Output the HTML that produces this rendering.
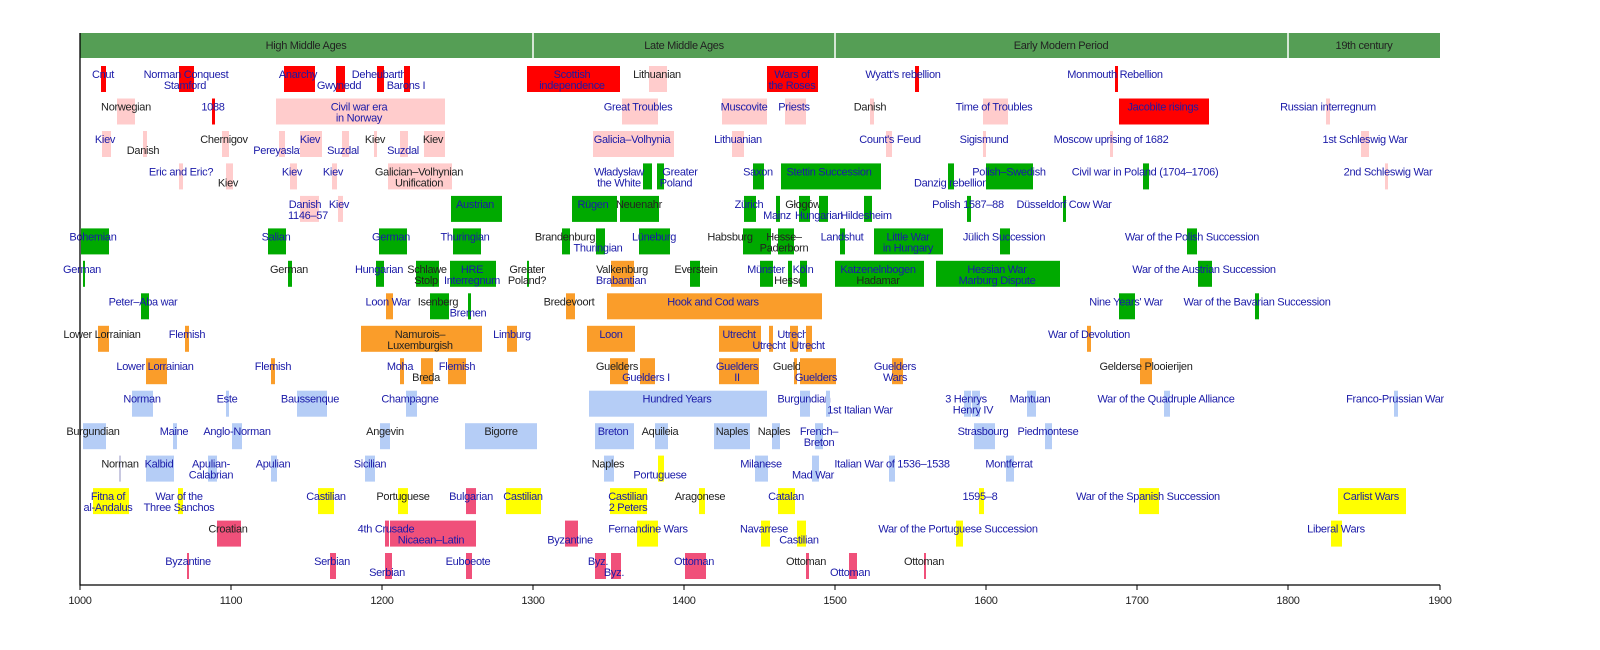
<!DOCTYPE html>
<html><head><meta charset="utf-8"><style>
html,body{margin:0;padding:0;background:#fff;}
svg{display:block;}
text{font-family:"Liberation Sans",sans-serif;font-size:11px;text-anchor:middle;letter-spacing:-0.3px;}
.b{fill:#1a1aa8;}
.k{fill:#222;}
.r{fill:#ff0000;}.p{fill:#ffcccc;}.g{fill:#00aa00;}.o{fill:#fa9d2a;}.l{fill:#b5cdf6;}.y{fill:#ffff00;}.c{fill:#f0507a;}
</style></head><body>
<svg width="1600" height="650" viewBox="0 0 1600 650" xmlns="http://www.w3.org/2000/svg">
<rect x="80" y="33" width="1360" height="25" fill="#559e55"/>
<line x1="533" y1="33" x2="533" y2="58" stroke="#fff" stroke-width="1.5"/>
<line x1="835" y1="33" x2="835" y2="58" stroke="#fff" stroke-width="1.5"/>
<line x1="1288" y1="33" x2="1288" y2="58" stroke="#fff" stroke-width="1.5"/>
<text class="k" x="306" y="49">High Middle Ages</text>
<text class="k" x="684" y="49">Late Middle Ages</text>
<text class="k" x="1061" y="49">Early Modern Period</text>
<text class="k" x="1364" y="49">19th century</text>

<g transform="translate(0,66)">
<rect class="r" x="101" width="5" height="26"/><text class="b" x="103" y="12">Cnut</text>
<rect class="r" x="179" width="15" height="26"/><text class="b" x="186" y="12">Norman Conquest</text><text class="b" x="185" y="23">Stamford</text>
<rect class="r" x="284" width="31" height="26"/><text class="b" x="298" y="12">Anarchy</text>
<rect class="r" x="336" width="9" height="26"/><text class="b" x="339" y="23">Gwynedd</text>
<rect class="r" x="377" width="7" height="26"/><text class="b" x="379" y="12">Deheubarth</text>
<rect class="r" x="404" width="6" height="26"/><text class="b" x="406" y="23">Barons I</text>
<rect class="r" x="527" width="93" height="26"/><text class="b" x="572" y="12">Scottish</text><text class="b" x="572" y="23">independence</text>
<rect class="p" x="649" width="18" height="26"/><text class="k" x="657" y="12">Lithuanian</text>
<rect class="r" x="767" width="51" height="26"/><text class="b" x="792" y="12">Wars of</text><text class="b" x="792" y="23">the Roses</text>
<rect class="r" x="915" width="4" height="26"/><text class="b" x="903" y="12">Wyatt's rebellion</text>
<rect class="r" x="1115" width="3" height="26"/><text class="b" x="1115" y="12">Monmouth Rebellion</text>
</g>

<g transform="translate(0,98.5)">
<rect class="p" x="117" width="18" height="26"/><text class="k" x="126" y="12">Norwegian</text>
<rect class="r" x="212" width="3" height="26"/><text class="b" x="213" y="12">1088</text>
<rect class="p" x="276" width="169" height="26"/><text class="b" x="359" y="12">Civil war era</text><text class="b" x="359" y="23">in Norway</text>
<rect class="p" x="622" width="36" height="26"/><text class="b" x="638" y="12">Great Troubles</text>
<rect class="p" x="722" width="45" height="26"/><text class="b" x="744" y="12">Muscovite</text>
<rect class="p" x="785" width="21" height="26"/><text class="b" x="794" y="12">Priests</text>
<rect class="p" x="870" width="4" height="26"/><text class="k" x="870" y="12">Danish</text>
<rect class="p" x="983" width="25" height="26"/><text class="b" x="994" y="12">Time of Troubles</text>
<rect class="r" x="1119" width="90" height="26"/><text class="b" x="1163" y="12">Jacobite risings</text>
<rect class="p" x="1326" width="4" height="26"/><text class="b" x="1328" y="12">Russian interregnum</text>
</g>

<g transform="translate(0,131)">
<rect class="p" x="102" width="9" height="26"/><text class="b" x="105" y="12">Kiev</text>
<rect class="p" x="143" width="4" height="26"/><text class="k" x="143" y="23">Danish</text>
<rect class="p" x="222" width="7" height="26"/><text class="k" x="224" y="12">Chernigov</text>
<rect class="p" x="279" width="6" height="26"/><text class="b" x="280" y="23">Pereyaslavl</text>
<rect class="p" x="300" width="22" height="26"/><text class="b" x="310" y="12">Kiev</text>
<rect class="p" x="342" width="7" height="26"/><text class="b" x="343" y="23">Suzdal</text>
<rect class="p" x="374" width="3" height="26"/><text class="k" x="375" y="12">Kiev</text>
<rect class="p" x="400" width="8" height="26"/><text class="b" x="403" y="23">Suzdal</text>
<rect class="p" x="424" width="21" height="26"/><text class="k" x="433" y="12">Kiev</text>
<rect class="p" x="593" width="81" height="26"/><text class="b" x="632" y="12">Galicia–Volhynia</text>
<rect class="p" x="732" width="12" height="26"/><text class="b" x="738" y="12">Lithuanian</text>
<rect class="p" x="886" width="6" height="26"/><text class="b" x="890" y="12">Count's Feud</text>
<rect class="p" x="983" width="3" height="26"/><text class="b" x="984" y="12">Sigismund</text>
<rect class="p" x="1110" width="3" height="26"/><text class="b" x="1111" y="12">Moscow uprising of 1682</text>
<rect class="p" x="1361" width="8" height="26"/><text class="b" x="1365" y="12">1st Schleswig War</text>
</g>

<g transform="translate(0,163.4)">
<rect class="p" x="179" width="4" height="26"/><text class="b" x="181" y="12">Eric and Eric?</text>
<rect class="p" x="226" width="7" height="26"/><text class="k" x="228" y="23">Kiev</text>
<rect class="p" x="290" width="7" height="26"/><text class="b" x="292" y="12">Kiev</text>
<rect class="p" x="332" width="5" height="26"/><text class="b" x="333" y="12">Kiev</text>
<rect class="p" x="388" width="64" height="26"/><text class="k" x="419" y="12">Galician–Volhynian</text><text class="k" x="419" y="23">Unification</text>
<rect class="g" x="643" width="9" height="26"/><text class="b" x="619" y="12">Władysław</text><text class="b" x="619" y="23">the White</text>
<rect class="g" x="657" width="7" height="26"/><text class="b" x="680" y="12">Greater</text><text class="b" x="676" y="23">Poland</text>
<rect class="g" x="753" width="11" height="26"/><text class="b" x="758" y="12">Saxon</text>
<rect class="g" x="781" width="100" height="26"/><text class="b" x="829" y="12">Stettin Succession</text>
<rect class="g" x="948" width="6" height="26"/><text class="b" x="951" y="23">Danzig rebellion</text>
<rect class="g" x="986" width="47" height="26"/><text class="b" x="1009" y="12">Polish–Swedish</text>
<rect class="g" x="1143" width="6" height="26"/><text class="b" x="1145" y="12">Civil war in Poland (1704–1706)</text>
<rect class="p" x="1385" width="3" height="26"/><text class="b" x="1388" y="12">2nd Schleswig War</text>
</g>

<g transform="translate(0,195.9)">
<rect class="p" x="300" width="19" height="26"/><text class="b" x="305" y="12">Danish</text><text class="b" x="308" y="23">1146–57</text>
<rect class="p" x="338" width="5" height="26"/><text class="b" x="339" y="12">Kiev</text>
<rect class="g" x="451" width="51" height="26"/><text class="b" x="475" y="12">Austrian</text>
<rect class="g" x="572" width="45" height="26"/><text class="b" x="593" y="12">Rügen</text>
<rect class="g" x="620" width="39" height="26"/><text class="k" x="639" y="12">Neuenahr</text>
<rect class="g" x="744" width="12" height="26"/><text class="b" x="749" y="12">Zürich</text>
<rect class="g" x="776" width="4" height="26"/><text class="b" x="777" y="23">Mainz</text>
<rect class="g" x="799" width="11" height="26"/><text class="k" x="803" y="12">Głogów</text>
<rect class="g" x="819" width="9" height="26"/><text class="b" x="819" y="23">Hungarian</text>
<rect class="g" x="864" width="8" height="26"/><text class="b" x="866" y="23">Hildesheim</text>
<rect class="g" x="967" width="4" height="26"/><text class="b" x="968" y="12">Polish 1587–88</text>
<rect class="g" x="1063" width="3" height="26"/><text class="b" x="1064" y="12">Düsseldorf Cow War</text>
</g>

<g transform="translate(0,228.4)">
<rect class="g" x="81" width="28" height="26"/><text class="b" x="93" y="12">Bohemian</text>
<rect class="g" x="268" width="18" height="26"/><text class="b" x="276" y="12">Salian</text>
<rect class="g" x="379" width="28" height="26"/><text class="b" x="391" y="12">German</text>
<rect class="g" x="453" width="28" height="26"/><text class="b" x="465" y="12">Thuringian</text>
<rect class="g" x="562" width="8" height="26"/><text class="k" x="565" y="12">Brandenburg</text>
<rect class="g" x="596" width="9" height="26"/><text class="b" x="598" y="23">Thuringian</text>
<rect class="g" x="639" width="31" height="26"/><text class="b" x="654" y="12">Lüneburg</text>
<rect class="g" x="743" width="28" height="26"/><text class="k" x="730" y="12">Habsburg</text>
<rect class="g" x="778" width="16" height="26"/><text class="k" x="784" y="12">Hesse–</text><text class="k" x="784" y="23">Paderborn</text>
<rect class="g" x="840" width="5" height="26"/><text class="b" x="842" y="12">Landshut</text>
<rect class="g" x="874" width="69" height="26"/><text class="b" x="908" y="12">Little War</text><text class="b" x="908" y="23">in Hungary</text>
<rect class="g" x="1000" width="10" height="26"/><text class="b" x="1004" y="12">Jülich Succession</text>
<rect class="g" x="1187" width="10" height="26"/><text class="b" x="1192" y="12">War of the Polish Succession</text>
</g>

<g transform="translate(0,260.8)">
<rect class="g" x="83" width="2" height="26"/><text class="b" x="82" y="12">German</text>
<rect class="g" x="288" width="4" height="26"/><text class="k" x="289" y="12">German</text>
<rect class="g" x="376" width="8" height="26"/><text class="b" x="379" y="12">Hungarian</text>
<rect class="g" x="416" width="23" height="26"/><text class="k" x="427" y="12">Schlawe</text><text class="k" x="426" y="23">Stolp</text>
<rect class="g" x="450" width="46" height="26"/><text class="b" x="472" y="12">HRE</text><text class="b" x="472" y="23">Interregnum</text>
<rect class="g" x="527" width="2" height="26"/><text class="k" x="527" y="12">Greater</text><text class="k" x="527" y="23">Poland?</text>
<rect class="o" x="611" width="23" height="26"/><text class="k" x="622" y="12">Valkenburg</text><text class="b" x="621" y="23">Brabantian</text>
<rect class="g" x="690" width="10" height="26"/><text class="k" x="696" y="12">Everstein</text>
<rect class="g" x="760" width="13" height="26"/><text class="b" x="766" y="12">Münster</text>
<rect class="g" x="788" width="4" height="26"/><text class="k" x="789" y="23">Hesse</text>
<rect class="g" x="800" width="7" height="26"/><text class="b" x="803" y="12">Köln</text>
<rect class="g" x="835" width="89" height="26"/><text class="b" x="878" y="12">Katzenelnbogen</text><text class="k" x="878" y="23">Hadamar</text>
<rect class="g" x="936" width="124" height="26"/><text class="b" x="997" y="12">Hessian War</text><text class="b" x="997" y="23">Marburg Dispute</text>
<rect class="g" x="1198" width="14" height="26"/><text class="b" x="1204" y="12">War of the Austrian Succession</text>
</g>

<g transform="translate(0,293.3)">
<rect class="g" x="141" width="8" height="26"/><text class="b" x="143" y="12">Peter–Aba war</text>
<rect class="o" x="386" width="7" height="26"/><text class="b" x="388" y="12">Loon War</text>
<rect class="g" x="430" width="19" height="26"/><text class="k" x="438" y="12">Isenberg</text>
<rect class="g" x="468" width="3" height="26"/><text class="b" x="468" y="23">Bremen</text>
<rect class="o" x="566" width="9" height="26"/><text class="k" x="569" y="12">Bredevoort</text>
<rect class="o" x="607" width="215" height="26"/><text class="b" x="713" y="12">Hook and Cod wars</text>
<rect class="g" x="1119" width="16" height="26"/><text class="b" x="1126" y="12">Nine Years' War</text>
<rect class="g" x="1255" width="4" height="26"/><text class="b" x="1257" y="12">War of the Bavarian Succession</text>
</g>

<g transform="translate(0,325.8)">
<rect class="o" x="98" width="11" height="26"/><text class="k" x="102" y="12">Lower Lorrainian</text>
<rect class="o" x="185" width="4" height="26"/><text class="b" x="187" y="12">Flemish</text>
<rect class="o" x="361" width="121" height="26"/><text class="k" x="420" y="12">Namurois–</text><text class="k" x="420" y="23">Luxemburgish</text>
<rect class="o" x="507" width="10" height="26"/><text class="b" x="512" y="12">Limburg</text>
<rect class="o" x="587" width="48" height="26"/><text class="b" x="611" y="12">Loon</text>
<rect class="o" x="719" width="42" height="26"/><text class="b" x="739" y="12">Utrecht</text>
<rect class="o" x="769" width="4" height="26"/><text class="b" x="769" y="23">Utrecht</text>
<rect class="o" x="790" width="8" height="26"/><text class="b" x="794" y="12">Utrecht</text>
<rect class="o" x="806" width="6" height="26"/><text class="b" x="808" y="23">Utrecht</text>
<rect class="o" x="1087" width="4" height="26"/><text class="b" x="1089" y="12">War of Devolution</text>
</g>

<g transform="translate(0,358.2)">
<rect class="o" x="146" width="21" height="26"/><text class="b" x="155" y="12">Lower Lorrainian</text>
<rect class="o" x="271" width="4" height="26"/><text class="b" x="273" y="12">Flemish</text>
<rect class="o" x="400" width="4" height="26"/><text class="b" x="400" y="12">Moha</text>
<rect class="o" x="421" width="12" height="26"/><text class="k" x="426" y="23">Breda</text>
<rect class="o" x="448" width="18" height="26"/><text class="b" x="457" y="12">Flemish</text>
<rect class="o" x="610" width="18" height="26"/><text class="k" x="617" y="12">Guelders</text>
<rect class="o" x="640" width="15" height="26"/><text class="b" x="646" y="23">Guelders I</text>
<rect class="o" x="719" width="40" height="26"/><text class="b" x="737" y="12">Guelders</text><text class="b" x="737" y="23">II</text>
<rect class="o" x="794" width="3" height="26"/><text class="k" x="794" y="12">Guelders</text>
<rect class="o" x="800" width="36" height="26"/><text class="b" x="816" y="23">Guelders</text>
<rect class="o" x="892" width="11" height="26"/><text class="b" x="895" y="12">Guelders</text><text class="b" x="895" y="23">Wars</text>
<rect class="o" x="1140" width="12" height="26"/><text class="k" x="1146" y="12">Gelderse Plooierijen</text>
</g>

<g transform="translate(0,390.7)">
<rect class="l" x="132" width="21" height="26"/><text class="b" x="142" y="12">Norman</text>
<rect class="l" x="226" width="3" height="26"/><text class="b" x="227" y="12">Este</text>
<rect class="l" x="297" width="30" height="26"/><text class="b" x="310" y="12">Baussenque</text>
<rect class="l" x="406" width="11" height="26"/><text class="b" x="410" y="12">Champagne</text>
<rect class="l" x="589" width="178" height="26"/><text class="b" x="677" y="12">Hundred Years</text>
<rect class="l" x="800" width="10" height="26"/><text class="b" x="804" y="12">Burgundian</text>
<rect class="l" x="826" width="4" height="26"/><text class="b" x="860" y="23">1st Italian War</text>
<rect class="l" x="964" width="7" height="26"/><rect class="l" x="972" width="8" height="26"/><text class="b" x="966" y="12">3 Henrys</text><text class="b" x="973" y="23">Henry IV</text>
<rect class="l" x="1027" width="9" height="26"/><text class="b" x="1030" y="12">Mantuan</text>
<rect class="l" x="1164" width="6" height="26"/><text class="b" x="1166" y="12">War of the Quadruple Alliance</text>
<rect class="l" x="1394" width="4" height="26"/><text class="b" x="1395" y="12">Franco-Prussian War</text>
</g>

<g transform="translate(0,423.2)">
<rect class="l" x="83" width="23" height="26"/><text class="k" x="93" y="12">Burgundian</text>
<rect class="l" x="173" width="4" height="26"/><text class="b" x="174" y="12">Maine</text>
<rect class="l" x="232" width="10" height="26"/><text class="b" x="237" y="12">Anglo-Norman</text>
<rect class="l" x="380" width="10" height="26"/><text class="k" x="385" y="12">Angevin</text>
<rect class="l" x="465" width="72" height="26"/><text class="k" x="501" y="12">Bigorre</text>
<rect class="l" x="595" width="39" height="26"/><text class="b" x="613" y="12">Breton</text>
<rect class="l" x="655" width="13" height="26"/><text class="k" x="660" y="12">Aquileia</text>
<rect class="l" x="714" width="36" height="26"/><text class="k" x="732" y="12">Naples</text>
<rect class="l" x="772" width="8" height="26"/><text class="k" x="774" y="12">Naples</text>
<rect class="l" x="815" width="8" height="26"/><text class="b" x="819" y="12">French–</text><text class="b" x="819" y="23">Breton</text>
<rect class="l" x="974" width="21" height="26"/><text class="b" x="983" y="12">Strasbourg</text>
<rect class="l" x="1045" width="7" height="26"/><text class="b" x="1048" y="12">Piedmontese</text>
</g>

<g transform="translate(0,455.6)">
<rect fill="#c8c8e0" x="119" width="2" height="26"/><text class="k" x="120" y="12">Norman</text>
<rect class="l" x="146" width="28" height="26"/><text class="b" x="159" y="12">Kalbid</text>
<rect class="l" x="208" width="9" height="26"/><text class="b" x="211" y="12">Apulian-</text><text class="b" x="211" y="23">Calabrian</text>
<rect class="l" x="271" width="6" height="26"/><text class="b" x="273" y="12">Apulian</text>
<rect class="l" x="365" width="10" height="26"/><text class="b" x="370" y="12">Sicilian</text>
<rect class="l" x="604" width="10" height="26"/><text class="k" x="608" y="12">Naples</text>
<rect class="y" x="658" width="6" height="26"/><text class="b" x="660" y="23">Portuguese</text>
<rect class="l" x="755" width="13" height="26"/><text class="b" x="761" y="12">Milanese</text>
<rect class="l" x="812" width="7" height="26"/><text class="b" x="813" y="23">Mad War</text>
<rect class="l" x="889" width="6" height="26"/><text class="b" x="892" y="12">Italian War of 1536–1538</text>
<rect class="l" x="1006" width="8" height="26"/><text class="b" x="1009" y="12">Montferrat</text>
</g>

<g transform="translate(0,488.1)">
<rect class="y" x="93" width="36" height="26"/><text class="b" x="108" y="12">Fitna of</text><text class="b" x="108" y="23">al-Andalus</text>
<rect class="y" x="178" width="5" height="26"/><text class="b" x="179" y="12">War of the</text><text class="b" x="179" y="23">Three Sanchos</text>
<rect class="y" x="318" width="16" height="26"/><text class="b" x="326" y="12">Castilian</text>
<rect class="y" x="398" width="10" height="26"/><text class="k" x="403" y="12">Portuguese</text>
<rect class="c" x="466" width="10" height="26"/><text class="b" x="471" y="12">Bulgarian</text>
<rect class="y" x="506" width="35" height="26"/><text class="b" x="523" y="12">Castilian</text>
<rect class="y" x="610" width="37" height="26"/><text class="b" x="628" y="12">Castilian</text><text class="b" x="628" y="23">2 Peters</text>
<rect class="y" x="699" width="6" height="26"/><text class="k" x="700" y="12">Aragonese</text>
<rect class="y" x="778" width="17" height="26"/><text class="b" x="786" y="12">Catalan</text>
<rect class="y" x="979" width="5" height="26"/><text class="b" x="980" y="12">1595–8</text>
<rect class="y" x="1139" width="20" height="26"/><text class="b" x="1148" y="12">War of the Spanish Succession</text>
<rect class="y" x="1338" width="68" height="26"/><text class="b" x="1371" y="12">Carlist Wars</text>
</g>

<g transform="translate(0,520.6)">
<rect class="c" x="217" width="24" height="26"/><text class="k" x="228" y="12">Croatian</text>
<rect class="c" x="385" width="4" height="26"/><rect class="c" x="390" width="86" height="26"/><text class="b" x="386" y="12">4th Crusade</text><text class="b" x="431" y="23">Nicaean–Latin</text>
<rect class="c" x="565" width="13" height="26"/><text class="b" x="570" y="23">Byzantine</text>
<rect class="y" x="637" width="21" height="26"/><text class="b" x="648" y="12">Fernandine Wars</text>
<rect class="y" x="761" width="9" height="26"/><text class="b" x="764" y="12">Navarrese</text>
<rect class="y" x="797" width="9" height="26"/><text class="b" x="799" y="23">Castilian</text>
<rect class="y" x="956" width="7" height="26"/><text class="b" x="958" y="12">War of the Portuguese Succession</text>
<rect class="y" x="1331" width="11" height="26"/><text class="b" x="1336" y="12">Liberal Wars</text>
</g>

<g transform="translate(0,553)">
<rect class="c" x="187" width="2" height="26"/><text class="b" x="188" y="12">Byzantine</text>
<rect class="c" x="330" width="6" height="26"/><text class="b" x="332" y="12">Serbian</text>
<rect class="c" x="385" width="7" height="26"/><text class="b" x="387" y="23">Serbian</text>
<rect class="c" x="466" width="6" height="26"/><text class="b" x="468" y="12">Euboeote</text>
<rect class="c" x="595" width="11" height="26"/><text class="b" x="598" y="12">Byz.</text>
<rect class="c" x="611" width="10" height="26"/><text class="b" x="614" y="23">Byz.</text>
<rect class="c" x="685" width="21" height="26"/><text class="b" x="694" y="12">Ottoman</text>
<rect class="c" x="806" width="3" height="26"/><text class="k" x="806" y="12">Ottoman</text>
<rect class="c" x="849" width="8" height="26"/><text class="b" x="850" y="23">Ottoman</text>
<rect class="c" x="924" width="2" height="26"/><text class="k" x="924" y="12">Ottoman</text>
</g>

<line x1="80" y1="33" x2="80" y2="585.5" stroke="#000" stroke-width="1.3"/>
<line x1="80" y1="585" x2="1440" y2="585" stroke="#000" stroke-width="1.3"/>
<g stroke="#000" stroke-width="1">
<line x1="80" y1="585" x2="80" y2="590"/><line x1="231" y1="585" x2="231" y2="590"/><line x1="382" y1="585" x2="382" y2="590"/><line x1="533" y1="585" x2="533" y2="590"/><line x1="684" y1="585" x2="684" y2="590"/><line x1="835" y1="585" x2="835" y2="590"/><line x1="986" y1="585" x2="986" y2="590"/><line x1="1137" y1="585" x2="1137" y2="590"/><line x1="1288" y1="585" x2="1288" y2="590"/><line x1="1440" y1="585" x2="1440" y2="590"/>
</g>
<g class="k">
<text x="80" y="604">1000</text><text x="231" y="604">1100</text><text x="382" y="604">1200</text><text x="533" y="604">1300</text><text x="684" y="604">1400</text><text x="835" y="604">1500</text><text x="986" y="604">1600</text><text x="1137" y="604">1700</text><text x="1288" y="604">1800</text><text x="1440" y="604">1900</text>
</g>
</svg>
</body></html>
